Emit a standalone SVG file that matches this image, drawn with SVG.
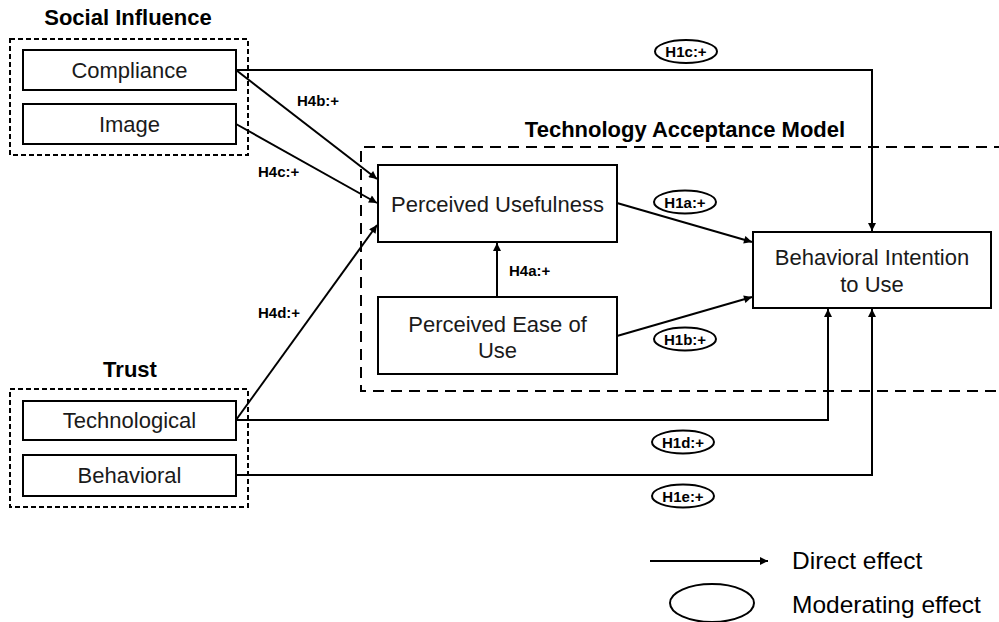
<svg xmlns="http://www.w3.org/2000/svg" width="999" height="622" viewBox="0 0 999 622">
<style>
.box{fill:#fff;stroke:#000;stroke-width:2}
.grp{fill:none;stroke:#000;stroke-width:2;stroke-dasharray:5,3}
.tam{fill:none;stroke:#000;stroke-width:2;stroke-dasharray:11,7}
.t{font-family:"Liberation Sans",Arial,sans-serif;font-size:22px;fill:#1a1a1a;text-anchor:middle}
.h{font-family:"Liberation Sans",Arial,sans-serif;font-size:22px;font-weight:bold;fill:#000;text-anchor:middle}
.lb{font-family:"Liberation Sans",Arial,sans-serif;font-size:15px;font-weight:bold;fill:#000}
.lbc{font-family:"Liberation Sans",Arial,sans-serif;font-size:15px;font-weight:bold;fill:#000;text-anchor:middle}
.ov{fill:#fff;stroke:#000;stroke-width:2}
.c{fill:none;stroke:#000;stroke-width:2}
.leg{font-family:"Liberation Sans",Arial,sans-serif;font-size:24.5px;fill:#000}
</style>
<defs>
<marker id="ah" viewBox="0 0 10 10" refX="10" refY="5" markerWidth="9" markerHeight="8" markerUnits="userSpaceOnUse" orient="auto">
<path d="M0,0 L10,5 L0,10 z" fill="#000"/>
</marker>
</defs>
<rect width="999" height="622" fill="#fff"/>

<g id="social-influence">
<text class="h" x="128" y="25">Social Influence</text>
<rect class="grp" x="10" y="39" width="238" height="116"/>
</g>
<g id="trust">
<text class="h" x="130" y="377">Trust</text>
<rect class="grp" x="10" y="389" width="238" height="118"/>
</g>
<g id="tam">
<text class="h" x="685" y="137">Technology Acceptance Model</text>
<path class="tam" d="M1005,147 H361 V391 H1005"/>
</g>

<g id="connectors">
<path class="c" d="M236,70 H872 V231" marker-end="url(#ah)"/>
<path class="c" d="M236,70 L377,179" marker-end="url(#ah)"/>
<path class="c" d="M236,124 L377,203" marker-end="url(#ah)"/>
<path class="c" d="M236,420 L377,225" marker-end="url(#ah)"/>
<path class="c" d="M497,297 V243" marker-end="url(#ah)"/>
<path class="c" d="M617,203 L752,242" marker-end="url(#ah)"/>
<path class="c" d="M617,336 L752,297" marker-end="url(#ah)"/>
<path class="c" d="M236,420 H828 V309" marker-end="url(#ah)"/>
<path class="c" d="M236,475 H872 V309" marker-end="url(#ah)"/>
</g>

<g id="compliance"><rect class="box" x="23" y="50" width="213" height="40"/><text class="t" x="129.5" y="78">Compliance</text></g>
<g id="image"><rect class="box" x="23" y="104" width="213" height="40"/><text class="t" x="129.5" y="132">Image</text></g>
<g id="technological"><rect class="box" x="23" y="401" width="213" height="39"/><text class="t" x="129.5" y="428">Technological</text></g>
<g id="behavioral"><rect class="box" x="23" y="455" width="213" height="41"/><text class="t" x="129.5" y="483">Behavioral</text></g>
<g id="pu"><rect class="box" x="378" y="165" width="239" height="77"/><text class="t" x="497.5" y="212">Perceived Usefulness</text></g>
<g id="peou"><rect class="box" x="378" y="297" width="239" height="77"/><text class="t" x="497.5" y="332">Perceived Ease of</text><text class="t" x="497.5" y="358">Use</text></g>
<g id="bi"><rect class="box" x="753" y="232" width="238" height="76"/><text class="t" x="872" y="265">Behavioral Intention</text><text class="t" x="872" y="292">to Use</text></g>

<g id="labels">
<text class="lb" x="297" y="106">H4b:+</text>
<text class="lb" x="258" y="177">H4c:+</text>
<text class="lb" x="258" y="318">H4d:+</text>
<text class="lb" x="509" y="276">H4a:+</text>
</g>

<g id="h1c"><ellipse class="ov" cx="686" cy="51.5" rx="31" ry="11.5"/><text class="lbc" x="686" y="57">H1c:+</text></g>
<g id="h1a"><ellipse class="ov" cx="685" cy="202" rx="31" ry="11.5"/><text class="lbc" x="685" y="207.5">H1a:+</text></g>
<g id="h1b"><ellipse class="ov" cx="685" cy="339" rx="31" ry="11.5"/><text class="lbc" x="685" y="344.5">H1b:+</text></g>
<g id="h1d"><ellipse class="ov" cx="683" cy="442" rx="31" ry="11.5"/><text class="lbc" x="683" y="447.5">H1d:+</text></g>
<g id="h1e"><ellipse class="ov" cx="683" cy="496" rx="31" ry="11.5"/><text class="lbc" x="683" y="501.5">H1e:+</text></g>

<g id="legend">
<path class="c" d="M650,561 H768" marker-end="url(#ah)"/>
<text class="leg" x="792" y="569">Direct effect</text>
<ellipse class="ov" cx="712" cy="603" rx="42" ry="19"/>
<text class="leg" x="792" y="613">Moderating effect</text>
</g>
</svg>
